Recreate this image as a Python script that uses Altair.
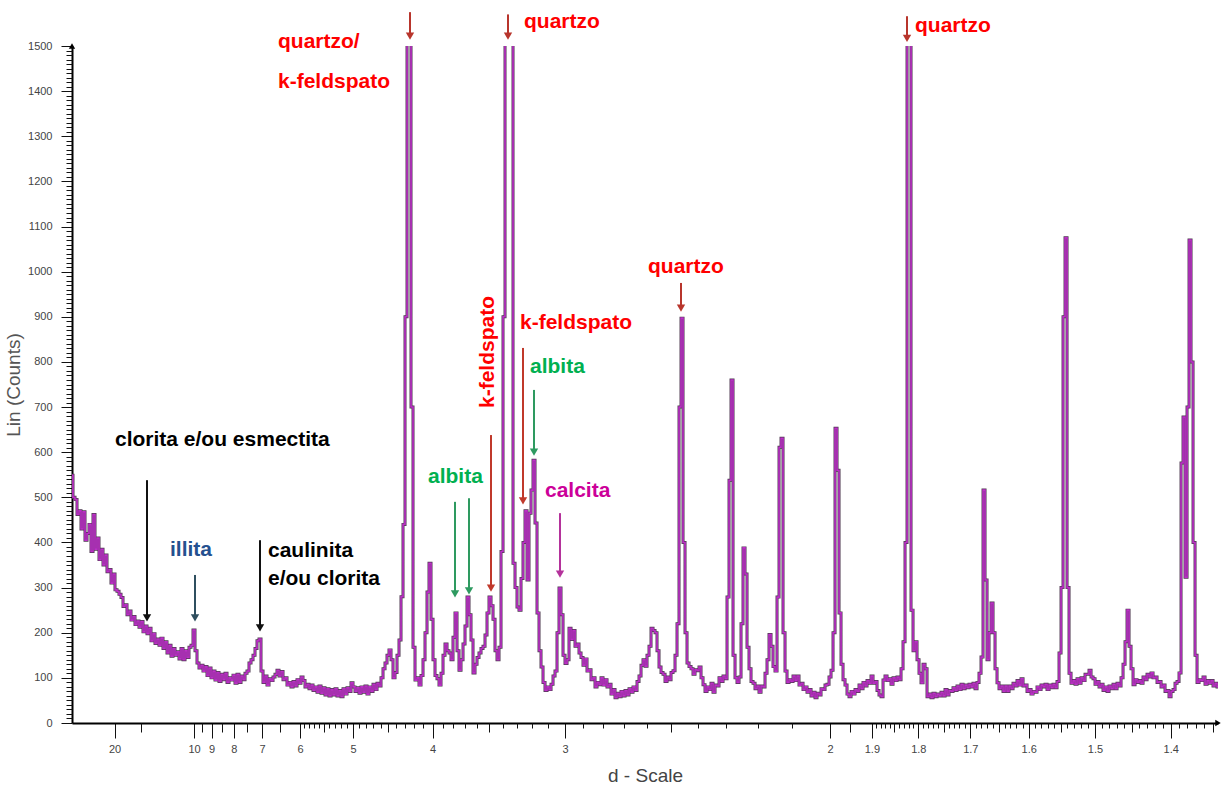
import altair as alt
import pandas as pd

# ---------------- data -----------------
# step scan, equally spaced in 1/d (1/Angstrom)
INV_D_START = 0.02327
INV_D_STEP = 0.0012579

COUNTS_ROWS = [
    [549, 500, 495, 462, 470, 430, 468, 405, 420, 440, 380, 462, 385, 410, 362, 385, 350, 372, 335, 340],
    [310, 330, 295, 292, 285, 278, 258, 262, 240, 248, 228, 236, 218, 226, 212, 225, 202, 215, 198, 210],
    [182, 198, 176, 186, 172, 188, 165, 180, 155, 172, 148, 165, 150, 158, 142, 165, 140, 160, 145, 168],
    [172, 206, 160, 133, 122, 128, 115, 125, 105, 122, 100, 115, 95, 112, 92, 108, 96, 110, 90, 100],
    [95, 106, 88, 108, 90, 104, 96, 110, 115, 133, 140, 150, 165, 182, 186, 115, 90, 104, 84, 98],
    [94, 102, 108, 117, 104, 114, 96, 100, 84, 90, 80, 92, 82, 96, 88, 102, 94, 80, 86, 76],
    [84, 72, 80, 68, 82, 66, 78, 62, 76, 60, 74, 62, 76, 60, 72, 58, 76, 64, 78, 70],
    [89, 80, 70, 78, 66, 80, 68, 82, 64, 80, 70, 86, 74, 88, 82, 100, 120, 133, 150, 162],
    [140, 100, 112, 150, 184, 280, 440, 900, 1560, 1560, 700, 168, 95, 100, 84, 105, 140, 200, 290, 354],
    [230, 140, 105, 98, 84, 110, 150, 175, 160, 155, 140, 190, 244, 160, 117, 140, 175, 215, 279, 240],
    [184, 111, 130, 145, 155, 165, 170, 195, 244, 279, 260, 230, 160, 140, 168, 380, 900, 1560, 1560, 1560],
    [1560, 354, 300, 257, 250, 320, 400, 470, 317, 465, 516, 582, 443, 244, 160, 124, 90, 72, 80, 74],
    [86, 104, 115, 200, 299, 240, 150, 132, 140, 210, 185, 205, 170, 175, 155, 145, 128, 142, 115, 118],
    [96, 100, 80, 90, 85, 100, 84, 96, 80, 86, 64, 74, 56, 66, 58, 70, 60, 72, 62, 76],
    [68, 80, 72, 92, 104, 128, 140, 126, 150, 170, 210, 205, 200, 160, 124, 112, 108, 92, 102, 96],
    [112, 116, 150, 220, 700, 897, 400, 200, 133, 125, 120, 108, 118, 116, 124, 100, 85, 70, 80, 74],
    [88, 68, 84, 82, 100, 92, 104, 98, 279, 538, 760, 150, 100, 90, 102, 220, 388, 330, 168, 120],
    [92, 88, 76, 82, 68, 82, 80, 110, 140, 196, 170, 125, 115, 279, 611, 631, 200, 115, 90, 96],
    [92, 104, 94, 104, 84, 88, 74, 80, 68, 74, 60, 68, 56, 66, 62, 76, 74, 84, 86, 102],
    [117, 200, 653, 560, 244, 130, 96, 84, 64, 58, 70, 64, 74, 70, 84, 76, 90, 82, 94, 88],
    [104, 88, 92, 72, 62, 58, 95, 104, 94, 98, 86, 100, 94, 102, 96, 120, 180, 400, 1560, 1560],
    [250, 160, 180, 140, 110, 89, 130, 120, 58, 64, 56, 66, 58, 64, 60, 68, 60, 74, 62, 72],
    [70, 78, 72, 82, 74, 86, 76, 84, 78, 86, 80, 88, 76, 90, 110, 146, 516, 317, 140, 200],
    [266, 200, 120, 89, 76, 82, 70, 82, 70, 82, 76, 88, 82, 94, 84, 98, 82, 84, 70, 74],
    [64, 70, 68, 80, 74, 84, 80, 86, 74, 84, 78, 86, 78, 92, 155, 300, 900, 1075, 300, 110],
    [88, 94, 86, 98, 88, 100, 94, 108, 108, 117, 102, 98, 86, 92, 80, 86, 72, 80, 70, 82],
    [76, 86, 76, 88, 82, 100, 130, 180, 250, 170, 120, 85, 96, 90, 94, 88, 102, 96, 108, 102],
    [111, 100, 102, 90, 92, 80, 84, 70, 72, 58, 70, 74, 88, 92, 111, 576, 678, 323, 700, 1070],
    [800, 400, 150, 90, 96, 94, 102, 86, 94, 88, 94, 82, 88, 80],
]
COUNTS = [v for row in COUNTS_ROWS for v in row]
assert len(COUNTS) == 574, len(COUNTS)

# axis tick labels (d-spacing, Angstrom)
MAJOR_D = [20, 10, 9, 8, 7, 6, 5, 4, 3, 2, 1.9, 1.8, 1.7, 1.6, 1.5, 1.4]
MID_D = [15, 9.5, 8.5, 7.5, 6.5, 5.5, 4.5, 3.5, 2.5, 1.95, 1.85, 1.75, 1.65, 1.55, 1.45, 1.35]
MINOR_D = [round(v / 10, 2) for v in range(21, 60) if v % 5 != 0] + \
          [round(v / 100, 3) for v in range(136, 190) if v % 5 != 0]
MAJOR_COUNTS = list(range(0, 1501, 100))
MINOR_COUNTS = [v for v in range(10, 1500, 10) if v % 100 != 0]

# annotation arrows
ARROW_INV_D = [0.23585, 0.29748, 0.54843, 0.40629, 0.28679, 0.30692, 0.31384,
               0.26415, 0.27296, 0.33019, 0.07044, 0.10063, 0.14151]
ARROW_FROM = [1575, 1570, 1566, 975, 638, 831, 738, 490, 498, 465, 538, 328, 405]
ARROW_HEAD = [1522, 1522, 1517, 919, 299, 492, 600, 286, 293, 330, 233, 233, 211]
ARROW_COLOR = ["#b8352c", "#b8352c", "#b8352c", "#b8352c", "#c0392b", "#c0392b", "#2e9a60",
               "#2e9a60", "#2e9a60", "#b4329b", "#111111", "#2f4f5f", "#111111"]

# annotation labels
LABEL_TEXT = ["quartzo/", "k-feldspato", "quartzo", "quartzo", "quartzo", "k-feldspato",
              "albita", "albita", "calcita", "clorita e/ou esmectita", "illita",
              "caulinita", "e/ou clorita"]
LABEL_INV_D = [0.15283, 0.15283, 0.30755, 0.55346, 0.38553, 0.30503,
               0.31132, 0.24717, 0.32075, 0.05031, 0.08491, 0.14654, 0.14654]
LABEL_COUNTS = [1508, 1420, 1553, 1544, 1010, 886, 789, 545, 514, 627, 383, 381, 318]
LABEL_COLOR = ["#ff0000", "#ff0000", "#ff0000", "#ff0000", "#ff0000", "#ff0000",
               "#00b050", "#00b050", "#cc0099", "#000000", "#24508f", "#000000", "#000000"]

VLABEL_TEXT = ["k-feldspato"]
VLABEL_INV_D = [0.28491]
VLABEL_COUNTS = [822]
VLABEL_COLOR = ["#ff0000"]

# ---------------- chart -----------------
W, H = 1146, 677
Q_MIN, Q_MAX = 0.02327, 0.74402
FONT = "Liberation Sans"

AXIS_END_INV_D = [Q_MIN, Q_MAX]
AXIS_END_COUNTS = [1500, 0]
AXIS_END_SHAPE = ["triangle-up", "triangle-right"]

xs = alt.Scale(domain=[Q_MIN, Q_MAX], nice=False, zero=False)
ys = alt.Scale(domain=[0, 1500], nice=False, zero=False)

df = pd.DataFrame({
    "inv_d": [INV_D_START + i * INV_D_STEP for i in range(len(COUNTS))],
    "counts": COUNTS,
})

x_axis_major = alt.Axis(
    orient="bottom", values=[1 / d for d in MAJOR_D],
    labelExpr="format(1 / datum.value, '.3~r')",
    tickSize=15, tickColor="#111", domainColor="#000", domainWidth=2,
    labelFont=FONT, labelFontSize=11, labelColor="#444", labelPadding=5,
    labelOverlap=False, labelFlush=False, labelBound=False, grid=False,
    title="d - Scale", titleFont=FONT, titleFontSize=19, titleFontWeight="normal",
    titleColor="#444", titlePadding=12,
)
y_axis_major = alt.Axis(
    orient="left", values=MAJOR_COUNTS, format="d", tickSize=11, tickColor="#111",
    domainColor="#000", domainWidth=2, labelFont=FONT, labelFontSize=11,
    labelColor="#444", labelPadding=9, labelOverlap=False, grid=False,
    title="Lin (Counts)", titleFont=FONT, titleFontSize=19, titleFontWeight="normal",
    titleColor="#555", titlePadding=4,
)

under = alt.Chart(df).mark_line(
    color="#4e3a50", strokeWidth=3, interpolate="step", clip=True
).encode(
    x=alt.X("inv_d:Q", scale=xs, axis=x_axis_major),
    y=alt.Y("counts:Q", scale=ys, axis=y_axis_major),
)
over = alt.Chart(df).mark_line(
    color="#bd2fc8", strokeWidth=1.6, interpolate="step", clip=True
).encode(
    x=alt.X("inv_d:Q", scale=xs, axis=None),
    y=alt.Y("counts:Q", scale=ys, axis=None),
)


def x_tick_layer(d_values, size):
    tdf = pd.DataFrame({"inv_d": [1 / d for d in d_values]})
    return alt.Chart(tdf).mark_point(opacity=0).encode(
        x=alt.X("inv_d:Q", scale=xs, axis=alt.Axis(
            orient="bottom", values=[1 / d for d in d_values], labels=False,
            domain=False, tickSize=size, tickColor="#111", grid=False, title=None)),
    )


mid_x = x_tick_layer(MID_D, 9)
minor_x = x_tick_layer(MINOR_D, 5)

minor_y = alt.Chart(pd.DataFrame({"counts": MINOR_COUNTS})).mark_point(opacity=0).encode(
    y=alt.Y("counts:Q", scale=ys, axis=alt.Axis(
        orient="left", values=MINOR_COUNTS, labels=False, domain=False,
        tickSize=6, tickColor="#111", grid=False, title=None)),
)

axis_ends = alt.Chart(pd.DataFrame({
    "inv_d": AXIS_END_INV_D, "counts": AXIS_END_COUNTS, "shape": AXIS_END_SHAPE
})).mark_point(filled=True, size=40, color="#000", opacity=1).encode(
    x=alt.X("inv_d:Q", scale=xs, axis=None),
    y=alt.Y("counts:Q", scale=ys, axis=None),
    shape=alt.Shape("shape:N", scale=None),
)

arrows_df = pd.DataFrame({"inv_d": ARROW_INV_D, "y_from": ARROW_FROM,
                          "y_head": ARROW_HEAD, "color": ARROW_COLOR})
shaft = alt.Chart(arrows_df).mark_rule(strokeWidth=2).encode(
    x=alt.X("inv_d:Q", scale=xs, axis=None),
    y=alt.Y("y_from:Q", scale=ys, axis=None),
    y2="y_head:Q",
    color=alt.Color("color:N", scale=None),
)
head = alt.Chart(arrows_df).mark_point(shape="triangle-down", filled=True, size=70, opacity=1).encode(
    x=alt.X("inv_d:Q", scale=xs, axis=None),
    y=alt.Y("y_head:Q", scale=ys, axis=None),
    color=alt.Color("color:N", scale=None),
)

labels_df = pd.DataFrame({"inv_d": LABEL_INV_D, "counts": LABEL_COUNTS,
                          "text": LABEL_TEXT, "color": LABEL_COLOR})
labels = alt.Chart(labels_df).mark_text(
    align="left", baseline="middle", font=FONT, fontSize=21, fontWeight="bold"
).encode(
    x=alt.X("inv_d:Q", scale=xs, axis=None),
    y=alt.Y("counts:Q", scale=ys, axis=None),
    text="text:N",
    color=alt.Color("color:N", scale=None),
)
vlabels_df = pd.DataFrame({"inv_d": VLABEL_INV_D, "counts": VLABEL_COUNTS,
                           "text": VLABEL_TEXT, "color": VLABEL_COLOR})
vlabels = alt.Chart(vlabels_df).mark_text(
    align="center", baseline="middle", angle=270, font=FONT, fontSize=21, fontWeight="bold"
).encode(
    x=alt.X("inv_d:Q", scale=xs, axis=None),
    y=alt.Y("counts:Q", scale=ys, axis=None),
    text="text:N",
    color=alt.Color("color:N", scale=None),
)

chart = alt.layer(
    under, over, mid_x, minor_x, minor_y, axis_ends, shaft, head, labels, vlabels
).resolve_scale(
    x="shared", y="shared"
).resolve_axis(
    x="independent", y="independent"
).properties(
    width=W, height=H,
    autosize=alt.AutoSizeParams(type="none"),
    padding={"left": 72, "top": 46, "right": 4, "bottom": 64},
    background="white",
).configure_view(stroke=None)

chart.save("out.html", embed_options={"renderer": "svg", "actions": False})
